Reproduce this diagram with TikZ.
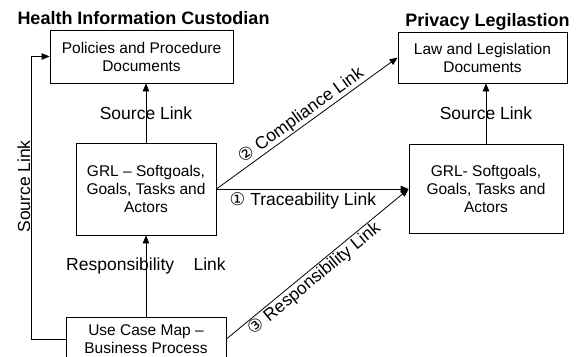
\documentclass[tikz,border=0pt]{standalone}
\usepackage{fontspec}
\setmainfont{Liberation Sans}
\newfontfamily\circfont{DejaVu Sans}
\usetikzlibrary{arrows.meta}

\begin{document}
\begin{tikzpicture}[x=1pt,y=-1pt,>={Triangle[length=8pt,width=6.5pt]},
  box/.style={draw,line width=0.8pt,align=center,inner sep=2pt,font=\fontsize{15.5}{18}\selectfont},
  lbl/.style={font=\fontsize{17.5}{20}\selectfont,inner sep=1pt},
  link/.style={->,line width=0.8pt}]
\useasboundingbox (0,0) rectangle (578,356);
% the two sides
\node[font=\bfseries\fontsize{18}{21}\selectfont,anchor=base] (hic) at (143.5,24) {Health Information Custodian};
\node[font=\bfseries\fontsize{18}{21}\selectfont,anchor=base] (priv) at (487.5,26) {Privacy Legilastion};
% documents
\node[box,minimum width=183pt,minimum height=53pt] (pol) at (141.5,56.5) {Policies and Procedure\\Documents};
\node[box,minimum width=169pt,minimum height=51pt] (law) at (482.5,57.5) {Law and Legislation\\Documents};
% goal models
\node[box,minimum width=140pt,minimum height=92pt] (grlL) at (146,189) {GRL -- Softgoals,\\Goals, Tasks and\\Actors};
\node[box,minimum width=154pt,minimum height=89pt] (grlR) at (486,188.5) {GRL- Softgoals,\\Goals, Tasks and\\Actors};
% process, runs off the bottom edge
\node[box,minimum width=160pt,minimum height=44pt] (ucm) at (146,339) {Use Case Map --\\Business Process};
\coordinate (meet) at (grlL.east -| grlR.west);
% links
\draw[link] (grlL.north) -- (grlL.north |- pol.south) node[lbl,midway] {Source Link};
\draw[link] (grlR.north) -- (grlR.north |- law.south) node[lbl,midway] {Source Link};
\draw[link] (ucm.north) -- (ucm.north |- grlL.south) node[lbl,pos=0.62] {Responsibility\ \ \ \ Link};
\draw[link] (grlL.east) -- (meet) node[lbl,pos=0.45,below=2pt] {{\circfont ①} Traceability Link};
\draw[link] (grlL.east) -- (law.west) node[lbl,midway,sloped,above] {{\circfont ②} Compliance Link};
\draw[link] (ucm.east) -- (meet) node[lbl,pos=0.45,sloped,below] {{\circfont ③} Responsibility Link};
\draw[link] (ucm.west) -- ++(-34,0) |- (pol.west) node[lbl,pos=0.27,sloped,above] {Source Link};
\end{tikzpicture}
\end{document}
